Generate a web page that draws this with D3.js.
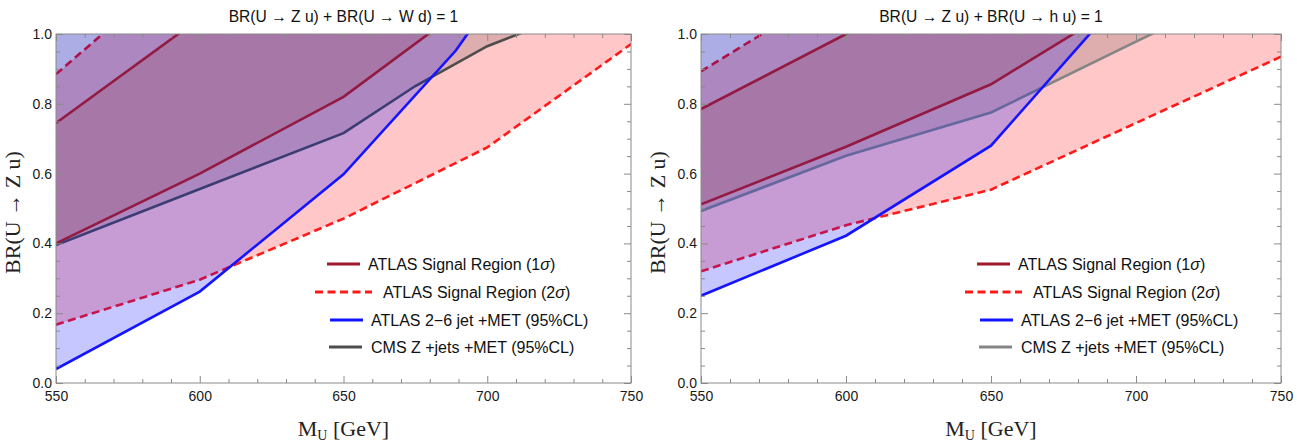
<!DOCTYPE html>
<html>
<head>
<meta charset="utf-8">
<script src="https://cdn.jsdelivr.net/npm/d3@7"></script>
<style>
  body { margin: 0; background: #fff; }
  svg { display: block; }
</style>
</head>
<body>
<svg id="chart" width="1297" height="443"></svg>
<script>
// axis ticks
var xTicks = [550, 600, 650, 700, 750];
var yTicks = [0, 0.2, 0.4, 0.6, 0.8, 1.0];

// left panel: BR(U->Zu) + BR(U->Wd) = 1   (pairs are [M_U, BR])
var sig1UpW  = [[550, 0.745], [600, 1.045]];
var sig1LowW = [[550, 0.40], [600, 0.60], [650, 0.82], [700, 1.125]];
var sig2UpW  = [[550, 0.885], [600, 1.24]];
var sig2LowW = [[550, 0.167], [600, 0.296], [650, 0.471], [700, 0.675], [750, 0.971]];
var jetW     = [[550, 0.04], [600, 0.262], [650, 0.598], [689, 0.952], [700, 1.08]];
var cmsW     = [[550, 0.395], [600, 0.556], [650, 0.716], [675, 0.851], [700, 0.965], [725, 1.045]];

// right panel: BR(U->Zu) + BR(U->hu) = 1
var sig1UpH  = [[550, 0.785], [600, 1.0], [650, 1.215]];
var sig1LowH = [[550, 0.512], [600, 0.677], [650, 0.856], [700, 1.11]];
var sig2UpH  = [[550, 0.893], [600, 1.147]];
var sig2LowH = [[550, 0.32], [600, 0.452], [650, 0.554], [700, 0.745], [750, 0.935]];
var jetH     = [[550, 0.25], [600, 0.422], [650, 0.68], [700, 1.15]];
var cmsH     = [[550, 0.493], [600, 0.651], [650, 0.775], [700, 0.978], [750, 1.18]];

var titles = ["BR(U \u2192 Z u) + BR(U \u2192 W d) = 1", "BR(U \u2192 Z u) + BR(U \u2192 h u) = 1"];
var legendLabels = [
  ["ATLAS Signal Region (1", "\u03c3", ")"],
  ["ATLAS Signal Region (2", "\u03c3", ")"],
  ["ATLAS 2\u22126 jet +MET (95%CL)", "", ""],
  ["CMS Z +jets +MET (95%CL)", "", ""]
];

var svg = d3.select('#chart');
var plotTop = 34, plotBottom = 383;
var sansFont = 'Liberation Sans, Arial, sans-serif';
var serifFont = 'Liberation Serif, Times New Roman, serif';

var panels = [
  { id: 0, left: 56, right: 631, legX: 327, cmsColor: '#4d4d4d',
    sig1Up: sig1UpW, sig1Low: sig1LowW, sig2Up: sig2UpW, sig2Low: sig2LowW, jet: jetW, cms: cmsW },
  { id: 1, left: 701, right: 1281, legX: 977, cmsColor: '#858585',
    sig1Up: sig1UpH, sig1Low: sig1LowH, sig2Up: sig2UpH, sig2Low: sig2LowH, jet: jetH, cms: cmsH }
];

panels.forEach(drawPanel);

function drawPanel(p) {
  var x = d3.scaleLinear().domain([550, 750]).range([p.left, p.right]);
  var y = d3.scaleLinear().domain([0, 1]).range([plotBottom, plotTop]);
  var yTop = y.domain()[1], xEnd = x.domain()[1];

  svg.append('defs').append('clipPath').attr('id', 'clip' + p.id)
    .append('rect')
    .attr('x', x.range()[0]).attr('y', y.range()[1])
    .attr('width', x.range()[1] - x.range()[0])
    .attr('height', y.range()[0] - y.range()[1]);

  var line = d3.line().x(d => x(d[0])).y(d => y(d[1]));
  // region between two curves
  function band(lo, up) { return lo.concat([[xEnd, yTop]], up.slice().reverse()); }
  // region between a curve and the top of the frame
  function above(c) { return c.concat([[c[c.length - 1][0], yTop], [c[0][0], yTop]]); }

  var g = svg.append('g').attr('clip-path', 'url(#clip' + p.id + ')');

  // 2 sigma
  g.append('path').attr('d', line(band(p.sig2Low, p.sig2Up)) + 'Z')
    .attr('fill', 'rgb(255,0,0)').attr('fill-opacity', 0.22).attr('stroke', 'none');
  [p.sig2Low, p.sig2Up].forEach(c => {
    g.append('path').attr('d', line(c)).attr('fill', 'none')
      .attr('stroke', '#ff1a1a').attr('stroke-width', 2.6).attr('stroke-dasharray', '8,4.5');
  });

  // CMS
  g.append('path').attr('d', line(above(p.cms)) + 'Z')
    .attr('fill', '#000').attr('fill-opacity', 0.13);
  g.append('path').attr('d', line(p.cms)).attr('fill', 'none')
    .attr('stroke', p.cmsColor).attr('stroke-width', 2.6);

  // 1 sigma band
  g.append('path').attr('d', line(band(p.sig1Low, p.sig1Up)) + 'Z')
    .attr('fill', 'rgb(200,110,80)').attr('fill-opacity', 0.3);

  // ATLAS 2-6 jet
  g.append('path').attr('d', line(above(p.jet)) + 'Z')
    .attr('fill', 'rgb(0,0,255)').attr('fill-opacity', 0.22);

  // 1 sigma edges
  [p.sig1Low, p.sig1Up].forEach(c => {
    g.append('path').attr('d', line(c)).attr('fill', 'none')
      .attr('stroke', '#931a42').attr('stroke-width', 2.6);
  });

  g.append('path').attr('d', line(p.jet)).attr('fill', 'none')
    .attr('stroke', '#1414ff').attr('stroke-width', 2.6);

  // frame and ticks
  var minorX = d3.range(550, 751, 10).filter(v => xTicks.indexOf(v) < 0);
  var minorY = d3.range(0, 1.001, 0.05).filter(v => Math.abs(v * 5 - Math.round(v * 5)) > 1e-6);

  function ticks(axisFn, scale, pos, major, minor, labels) {
    var a = svg.append('g').attr('transform', pos)
      .call(axisFn(scale).tickValues(major).tickSize(-7).tickPadding(labels ? 8 : 0)
        .tickFormat(labels ? labels : ''));
    var b = svg.append('g').attr('transform', pos)
      .call(axisFn(scale).tickValues(minor).tickSize(-4).tickFormat(''));
    [a, b].forEach(s => {
      s.select('.domain').remove();
      s.selectAll('.tick line').attr('stroke', '#8a8a8a');
      s.selectAll('.tick text').attr('fill', '#1a1a1a')
        .style('font-family', sansFont).style('font-size', '14px');
    });
    return a;
  }
  ticks(d3.axisBottom, x, 'translate(0,' + plotBottom + ')', xTicks, minorX, d3.format('d'));
  ticks(d3.axisTop, x, 'translate(0,' + plotTop + ')', xTicks, minorX, null);
  var yl = ticks(d3.axisLeft, y, 'translate(' + p.left + ',0)', yTicks, minorY, d3.format('.1f'));
  yl.selectAll('.tick text').attr('x', -4);
  ticks(d3.axisRight, y, 'translate(' + p.right + ',0)', yTicks, minorY, null);

  svg.append('rect')
    .attr('x', p.left).attr('y', plotTop)
    .attr('width', p.right - p.left).attr('height', plotBottom - plotTop)
    .attr('fill', 'none').attr('stroke', '#8a8a8a').attr('stroke-width', 1);

  // title
  svg.append('text')
    .attr('x', (p.left + p.right) / 2).attr('y', 22)
    .attr('text-anchor', 'middle')
    .style('font-family', sansFont).style('font-size', '15.6px')
    .attr('fill', '#111')
    .text(titles[p.id]);

  // axis labels
  var xl = svg.append('text')
    .attr('x', (p.left + p.right) / 2).attr('y', 436)
    .attr('text-anchor', 'middle')
    .style('font-family', serifFont).style('font-size', '22px')
    .attr('fill', '#222');
  xl.append('tspan').text('M');
  xl.append('tspan').attr('dy', 4).style('font-size', '14px').text('U');
  xl.append('tspan').attr('dy', -4).text(' [GeV]');

  svg.append('text')
    .attr('transform', 'translate(' + (p.left - 36) + ',' + ((plotTop + plotBottom) / 2 + 4) + ') rotate(-90)')
    .attr('text-anchor', 'middle')
    .style('font-family', serifFont).style('font-size', '22px')
    .attr('fill', '#222')
    .text('BR(U \u2192 Z u)');

  // legend
  var rows = [
    { y: 264, l0: 0, l1: 33, tx: 41, color: '#a0182c', dash: null },
    { y: 292, l0: -12, l1: 45, tx: 56, color: '#ff1a1a', dash: '8,4.5' },
    { y: 320, l0: 3, l1: 36, tx: 44, color: '#1414ff', dash: null },
    { y: 347, l0: 2, l1: 35, tx: 44, color: p.cmsColor, dash: null }
  ];
  rows.forEach((r, i) => {
    svg.append('line')
      .attr('x1', p.legX + r.l0).attr('x2', p.legX + r.l1)
      .attr('y1', r.y).attr('y2', r.y)
      .attr('stroke', r.color).attr('stroke-width', 2.8)
      .attr('stroke-dasharray', r.dash);
    var t = svg.append('text')
      .attr('x', p.legX + r.tx).attr('y', r.y + 5.5)
      .style('font-family', sansFont).style('font-size', '16px')
      .attr('fill', '#111');
    t.append('tspan').text(legendLabels[i][0]);
    if (legendLabels[i][1]) {
      t.append('tspan').style('font-style', 'italic').text(legendLabels[i][1]);
      t.append('tspan').text(legendLabels[i][2]);
    }
  });
}
</script>
</body>
</html>
